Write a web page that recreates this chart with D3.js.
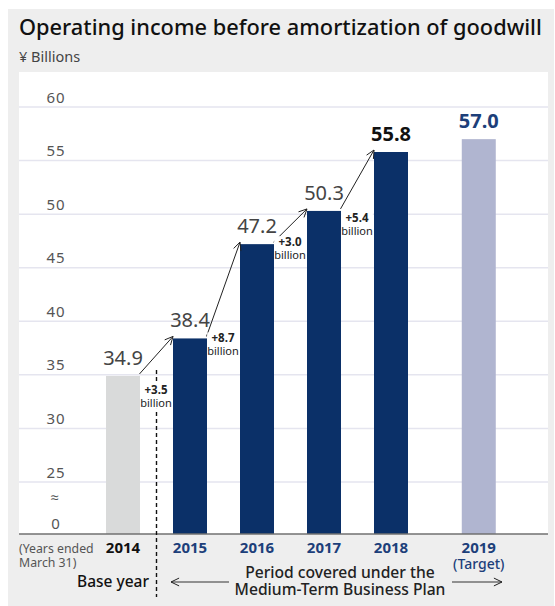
<!DOCTYPE html>
<html>
<head>
<meta charset="utf-8">
<script src="https://cdn.jsdelivr.net/npm/d3@7"></script>
<style>
  html, body { margin: 0; padding: 0; background: #ffffff; }
  svg { display: block; font-family: "Noto Sans", "Open Sans", sans-serif; }
</style>
</head>
<body>
<svg id="chart" width="555" height="606"></svg>
<script>
// Fiscal years (ended March 31) and operating income before amortization of goodwill, ¥ billions
const years = ["2014", "2015", "2016", "2017", "2018", "2019"];
const values = [34.9, 38.4, 47.2, 50.3, 55.8, 57.0];
const valueLabels = ["34.9", "38.4", "47.2", "50.3", "55.8", "57.0"];
// Year-on-year increases shown beside each step arrow
const increases = ["+3.5", "+8.7", "+3.0", "+5.4"];
// Y-axis tick values (the axis is broken between 0 and 25)
const yTicks = [25, 30, 35, 40, 45, 50, 55, 60];

const NAVY = "#0b3068";
const barColors = ["#d9dada", NAVY, NAVY, NAVY, NAVY, "#b0b5d0"];
const labelStyles = [
  { fill: "#444", weight: 400 },
  { fill: "#444", weight: 400 },
  { fill: "#444", weight: 400 },
  { fill: "#444", weight: 400 },
  { fill: "#111", weight: 700 },
  { fill: "#1d3f7a", weight: 700 }
];
// vertical offset of each increase label below the preceding bar's top
const increaseDy = [18, 4, 2, 11];

const svg = d3.select("#chart");

// scale a text's font size so it spans the given width; returns the new size
function fitWidth(sel, width) {
  const fs = parseFloat(sel.attr("font-size"));
  const w = sel.node().getComputedTextLength();
  const nfs = w > 0 ? fs * width / w : fs;
  sel.attr("font-size", nfs.toFixed(2));
  return nfs;
}

// panel + plot backgrounds
svg.append("rect").attr("x", 8).attr("y", 9).attr("width", 546).attr("height", 597).attr("fill", "#eeeeee");
svg.append("rect").attr("x", 19).attr("y", 72).attr("width", 529).attr("height", 462).attr("fill", "#ffffff");

// title
fitWidth(svg.append("text").attr("x", 19).attr("y", 35)
  .attr("font-size", 20.5).attr("fill", "#111").attr("font-weight", 500)
  .text("Operating income before amortization of goodwill"), 523);
svg.append("text").attr("x", 19).attr("y", 62)
  .attr("font-size", 14.5).attr("fill", "#444")
  .text("¥ Billions");

// scales: broken axis, 0 sits at the baseline and 25..60 spread above it
const y = d3.scaleLinear().domain([0, 25, 60]).range([534, 482, 107]);
const x = d3.scaleLinear().domain([0, 1]).range([123, 190]);
const slot = i => i + (i === 5 ? 0.31 : 0);
const barW = 34;
const cx = i => x(slot(i));

// gridlines
svg.append("g").selectAll("line").data(yTicks).join("line")
  .attr("x1", 19).attr("x2", 548)
  .attr("y1", d => y(d)).attr("y2", d => y(d))
  .attr("stroke", "#e5e5ef").attr("stroke-width", 1.5);

// y tick labels
const yl = svg.append("g").attr("font-size", 15).attr("fill", "#555").attr("text-anchor", "middle")
  .attr("letter-spacing", 0.8);
yl.selectAll("text").data(yTicks).join("text")
  .attr("x", 56).attr("y", d => y(d) - 4.5)
  .text(d => d);
yl.append("text").attr("x", 55).attr("y", 503).text("≈");
yl.append("text").attr("x", 56).attr("y", 529).text("0");

// bars
svg.append("g").selectAll("rect").data(values).join("rect")
  .attr("x", (d, i) => cx(i) - barW / 2)
  .attr("width", barW)
  .attr("y", d => y(d))
  .attr("height", d => y(0) - y(d))
  .attr("fill", (d, i) => barColors[i]);

// baseline axis
svg.append("line").attr("x1", 19).attr("x2", 548).attr("y1", 534).attr("y2", 534)
  .attr("stroke", "#707070").attr("stroke-width", 1.6);

// dashed divider between base year and plan period
svg.append("line").attr("x1", 156.5).attr("x2", 156.5).attr("y1", 370).attr("y2", 597)
  .attr("stroke", "#111").attr("stroke-width", 1.4).attr("stroke-dasharray", "4,3");

// value labels
svg.append("g").attr("text-anchor", "middle").attr("font-size", 20)
  .selectAll("text").data(values).join("text")
  .attr("x", (d, i) => cx(i))
  .attr("y", d => y(d) - 11)
  .attr("fill", (d, i) => labelStyles[i].fill)
  .attr("font-weight", (d, i) => labelStyles[i].weight)
  .text((d, i) => valueLabels[i]);

// step arrows from each bar top to the next
function arrowHead(g, x1, y1, x2, y2, size) {
  const a = Math.atan2(y2 - y1, x2 - x1);
  const s = 0.45;
  const p = [
    [x2 - size * Math.cos(a - s), y2 - size * Math.sin(a - s)],
    [x2, y2],
    [x2 - size * Math.cos(a + s), y2 - size * Math.sin(a + s)]
  ];
  g.append("polyline").attr("points", p.map(q => q.join(",")).join(" "))
    .attr("fill", "none").attr("stroke", "#222").attr("stroke-width", 1);
}
const arrows = svg.append("g");
increases.forEach((lab, i) => {
  const x1 = cx(i) + barW / 2 - 0.5, y1 = y(values[i]) - 2;
  const x2 = cx(i + 1) - barW / 2, y2 = y(values[i + 1]) - 2;
  arrows.append("line").attr("x1", x1).attr("y1", y1).attr("x2", x2).attr("y2", y2)
    .attr("stroke", "#222").attr("stroke-width", 1);
  arrowHead(arrows, x1, y1, x2, y2, 9);
  const lx = cx(i) + barW / 2 + 16;
  const ly = y(values[i]) + increaseDy[i];
  // white knockout so the divider does not run through the label
  const bg = arrows.append("rect").attr("fill", "#ffffff");
  const t1 = arrows.append("text").attr("x", lx).attr("y", ly).attr("text-anchor", "middle")
    .attr("font-size", 11.5).attr("font-weight", 700).attr("fill", "#222").text(lab);
  const t2 = arrows.append("text").attr("x", lx).attr("y", ly + 13).attr("text-anchor", "middle")
    .attr("font-size", 11).attr("fill", "#222").text("billion");
  const b1 = t1.node().getBBox(), b2 = t2.node().getBBox();
  const bx = Math.min(b1.x, b2.x), bw = Math.max(b1.x + b1.width, b2.x + b2.width) - bx;
  bg.attr("x", bx).attr("y", b1.y + 2).attr("width", bw).attr("height", b2.y + b2.height - b1.y - 3);
});

// year labels
svg.append("g").attr("text-anchor", "middle").attr("font-size", 15)
  .selectAll("text").data(years).join("text")
  .attr("x", (d, i) => cx(i)).attr("y", 553)
  .attr("font-weight", 700)
  .attr("fill", (d, i) => i === 0 ? "#111" : "#1d3f7a")
  .text(d => d);
svg.append("text").attr("x", cx(5)).attr("y", 569).attr("text-anchor", "middle")
  .attr("font-size", 14).attr("fill", "#1d3f7a").attr("font-weight", 500).text("(Target)");

// fiscal-year note
const note = svg.append("g").attr("font-size", 12.3).attr("fill", "#555");
note.append("text").attr("x", 19).attr("y", 553).text("(Years ended");
note.append("text").attr("x", 19).attr("y", 567).text("March 31)");

// base year / plan period captions
svg.append("text").attr("x", 149).attr("y", 587).attr("text-anchor", "end")
  .attr("font-size", 15.5).attr("font-weight", 500).attr("fill", "#111").text("Base year");
const plan = svg.append("g").attr("text-anchor", "middle").attr("fill", "#222").attr("font-weight", 500);
const planLine2 = plan.append("text").attr("x", 340).attr("y", 595).attr("font-size", 15).text("Medium-Term Business Plan");
const planFs = fitWidth(planLine2, 211);
plan.append("text").attr("x", 340).attr("y", 578).attr("font-size", planFs.toFixed(2)).text("Period covered under the");

// period arrows
const pa = svg.append("g");
pa.append("line").attr("x1", 171).attr("x2", 229).attr("y1", 582).attr("y2", 582).attr("stroke", "#333").attr("stroke-width", 1.2);
arrowHead(pa, 229, 582, 171, 582, 9);
pa.append("line").attr("x1", 452).attr("x2", 502).attr("y1", 582).attr("y2", 582).attr("stroke", "#333").attr("stroke-width", 1.2);
arrowHead(pa, 452, 582, 502, 582, 9);
</script>
</body>
</html>
